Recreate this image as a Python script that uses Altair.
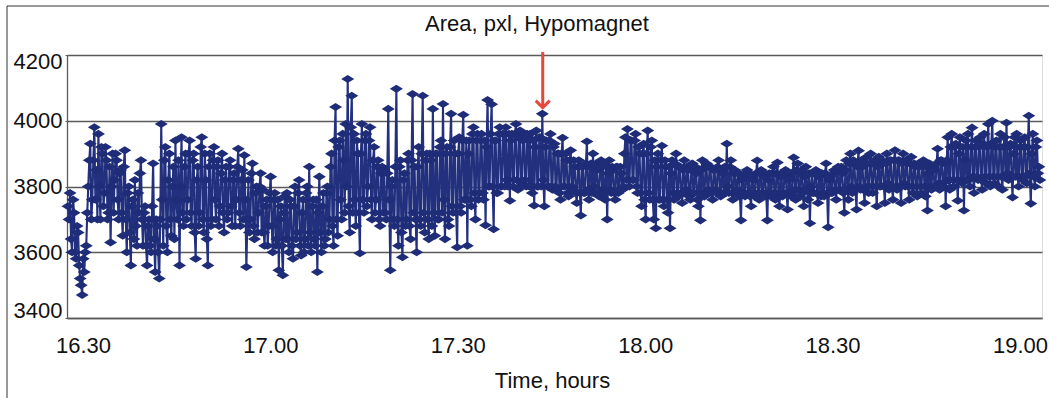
import altair as alt
import numpy as np
import pandas as pd

# Area (pxl) readings, in time order (16:27 .. 19:03)
part_a = [
    3740, 3700, 3780, 3640, 3600, 3760, 3720, 3600, 3580, 3680, 3660, 3560, 3520, 3500, 3470, 3580, 3540, 3600, 3620, 3720, 3800, 3880, 3930, 3700,
    3760, 3880, 3980, 3760, 3850, 3700, 3960, 3800, 3700, 3920, 3900, 3740, 3780, 3920, 3880, 3700, 3720, 3860, 3630, 3800, 3900, 3720, 3820, 3900,
    3880, 3760, 3700, 3840, 3850, 3720, 3650, 3860, 3910, 3700, 3600, 3780, 3800, 3660, 3560, 3740, 3760, 3640, 3820, 3680, 3620, 3780, 3720, 3840,
    3880, 3700, 3620, 3720, 3740, 3620, 3560, 3680, 3700, 3620, 3600, 3740, 3870, 3640, 3540, 3700, 3680, 3600, 3520, 3700, 3990, 3760, 3620, 3880,
    3920, 3680, 3600, 3820, 3900, 3700, 3650, 3800, 3860, 3640, 3940, 3760, 3700, 3880, 3560, 3800, 3950, 3720, 3680, 3860, 3900, 3700, 3760, 3900,
    3940, 3720, 3680, 3880, 3900, 3660, 3580, 3820, 3860, 3680, 3720, 3920, 3950, 3700, 3660, 3900, 3820, 3640, 3560, 3860, 3900, 3680, 3700, 3880,
    3920, 3760, 3700, 3860, 3880, 3680, 3740, 3840, 3900, 3720, 3660, 3820, 3860, 3700, 3720, 3860, 3880, 3740, 3680, 3820, 3840, 3680, 3760, 3860,
    3915, 3720, 3680, 3820, 3850, 3700, 3895, 3760, 3555, 3700, 3820, 3660, 3700, 3840, 3870, 3680, 3640, 3780, 3800, 3660, 3720, 3800, 3840, 3660,
]
part_b = [
    3790, 3660, 3620, 3740, 3760, 3620, 3680, 3780, 3830, 3680, 3600, 3760, 3780, 3620, 3640, 3760, 3545, 3700, 3740, 3620, 3530, 3720, 3770, 3640,
    3780, 3640, 3600, 3760, 3740, 3620, 3580, 3740, 3800, 3640, 3660, 3780, 3820, 3620, 3590, 3720, 3760, 3600, 3640, 3780, 3800, 3620, 3860, 3660,
    3600, 3740, 3760, 3640, 3620, 3760, 3540, 3720, 3830, 3660, 3600, 3740, 3780, 3620, 3640, 3780, 3800, 3660, 3700, 3860, 3900, 3680, 3620, 3940,
    4042, 3700, 3650, 3920, 3940, 3760, 3700, 3960, 3880, 3720, 3990, 3800, 4127, 3740, 3660, 3980, 4076, 3720, 3960, 3760, 3680, 3940, 3900, 3720,
    3597, 3900, 3990, 3760, 3720, 3940, 3960, 3740, 3800, 3940, 3980, 3760, 3700, 3880, 3920, 3720, 3760, 3860, 3880, 3700, 3680, 3840, 3860, 3720,
    3850, 3720, 3700, 3840, 4036, 3760, 3545, 3800, 3820, 3700, 3680, 3860, 4097, 3700, 3620, 3860, 3880, 3660, 3585, 3820, 3840, 3680, 3700, 3880,
    3900, 3680, 3640, 3880, 4081, 3720, 3860, 3700, 3600, 3860, 3920, 3700, 3680, 3900, 4076, 3720, 3660, 3880, 3900, 3700, 3640, 3900, 3880, 3680,
    4036, 3720, 3650, 3900, 3900, 3700, 3700, 3920, 3940, 3720, 4051, 3760, 3640, 3900, 3920, 3700, 3680, 3920, 4021, 3740, 3720, 3940, 3900, 3720,
]
part_c = [
    3615, 3900, 3950, 3740, 3720, 3940, 4018, 3760, 3760, 3940, 3620, 3900, 3940, 3760, 3740, 3960, 3980, 3780, 3700, 3940, 3960, 3760, 3780, 3940,
    3960, 3780, 3760, 3940, 3682, 3920, 4063, 3800, 3800, 3960, 4050, 3800, 3670, 3940, 3940, 3780, 3780, 3960, 3980, 3800, 3800, 3960, 3960, 3800,
    3980, 3820, 3800, 3960, 3757, 3940, 3960, 3800, 3820, 3960, 3990, 3820, 3790, 3950, 3970, 3800, 3810, 3940, 3960, 3820, 3800, 3960, 3950, 3800,
    3960, 3800, 3780, 3940, 3742, 3920, 3970, 3800, 3800, 3950, 3950, 3800, 4021, 3820, 3740, 3920, 3940, 3800, 3800, 3940, 3960, 3800, 3790, 3920,
    3930, 3800, 3790, 3900, 3900, 3780, 3760, 3900, 3948, 3800, 3800, 3900, 3880, 3780, 3770, 3880, 3910, 3800, 3790, 3880, 3860, 3780, 3750, 3860,
    3880, 3780, 3712, 3860, 3860, 3780, 3780, 3870, 3937, 3790, 3760, 3860, 3870, 3780, 3900, 3800, 3780, 3870, 3850, 3780, 3770, 3860, 3880, 3790,
    3870, 3780, 3760, 3860, 3700, 3840, 3880, 3790, 3780, 3860, 3850, 3780, 3760, 3860, 3860, 3780, 3790, 3860, 3840, 3790, 3800, 3900, 3950, 3820,
    3975, 3820, 3800, 3940, 3940, 3820, 3820, 3940, 3960, 3800, 3780, 3920, 3900, 3780, 3740, 3900, 3930, 3760, 3700, 3900, 3970, 3780, 3760, 3920,
]
part_d = [
    3940, 3760, 3700, 3880, 3673, 3860, 3900, 3760, 3760, 3880, 3924, 3760, 3740, 3880, 3860, 3760, 3720, 3860, 3673, 3840, 3880, 3780, 3760, 3870,
    3900, 3780, 3770, 3860, 3860, 3780, 3750, 3850, 3880, 3780, 3790, 3860, 3850, 3770, 3760, 3850, 3870, 3780, 3780, 3860, 3840, 3760, 3740, 3850,
    3697, 3850, 3880, 3780, 3770, 3860, 3870, 3780, 3790, 3860, 3860, 3780, 3760, 3850, 3850, 3790, 3780, 3860, 3880, 3780, 3770, 3850, 3840, 3780,
    3860, 3780, 3930, 3800, 3780, 3860, 3880, 3780, 3760, 3840, 3850, 3780, 3790, 3840, 3840, 3770, 3697, 3820, 3830, 3780, 3770, 3840, 3850, 3780,
    3840, 3770, 3740, 3830, 3820, 3780, 3770, 3840, 3879, 3780, 3760, 3840, 3850, 3780, 3780, 3840, 3830, 3770, 3697, 3820, 3840, 3780, 3770, 3840,
    3860, 3780, 3760, 3840, 3873, 3780, 3740, 3830, 3840, 3770, 3780, 3840, 3850, 3780, 3730, 3820, 3830, 3780, 3770, 3840, 3888, 3790, 3760, 3850,
    3870, 3790, 3770, 3840, 3850, 3780, 3740, 3830, 3860, 3790, 3760, 3840, 3688, 3800, 3840, 3780, 3780, 3840, 3850, 3780, 3750, 3830, 3830, 3770,
    3840, 3780, 3770, 3840, 3870, 3780, 3676, 3820, 3830, 3780, 3780, 3840, 3850, 3790, 3760, 3850, 3860, 3790, 3790, 3860, 3840, 3780, 3720, 3850,
]
part_e = [
    3880, 3790, 3760, 3870, 3900, 3800, 3780, 3880, 3870, 3790, 3730, 3860, 3909, 3800, 3790, 3880, 3860, 3790, 3750, 3870, 3890, 3800, 3780, 3870,
    3900, 3800, 3780, 3870, 3880, 3800, 3740, 3860, 3890, 3800, 3800, 3880, 3870, 3800, 3750, 3870, 3900, 3810, 3790, 3880, 3880, 3800, 3760, 3880,
    3910, 3800, 3790, 3880, 3880, 3800, 3750, 3870, 3900, 3810, 3800, 3880, 3870, 3800, 3760, 3870, 3890, 3800, 3780, 3870, 3860, 3800, 3770, 3870,
    3860, 3800, 3780, 3870, 3880, 3800, 3770, 3860, 3727, 3840, 3870, 3800, 3790, 3860, 3850, 3800, 3800, 3870, 3915, 3810, 3790, 3880, 3880, 3810,
    3800, 3870, 3740, 3880, 3950, 3820, 3790, 3920, 3960, 3820, 3800, 3920, 3930, 3820, 3757, 3900, 3950, 3820, 3810, 3920, 3727, 3880, 3940, 3820,
    3960, 3820, 3800, 3920, 3979, 3830, 3780, 3920, 3940, 3830, 3820, 3920, 3950, 3820, 3790, 3930, 3960, 3830, 3810, 3920, 3990, 3830, 3800, 3930,
    4000, 3830, 3810, 3920, 3940, 3830, 3800, 3920, 3960, 3830, 3790, 3920, 3950, 3830, 3994, 3840, 3820, 3920, 3930, 3830, 3767, 3900, 3950, 3830,
    3960, 3830, 3800, 3920, 3940, 3830, 3820, 3920, 3950, 3830, 3810, 3920, 4015, 3840, 3748, 3900, 3960, 3830, 3800, 3920, 3940, 3840, 3860, 3820,
]

first_minute = -2.4     # minutes after 16:30 of the first reading
last_minute = 153.2     # minutes after 16:30 of the last reading

tick_minutes = [0, 30, 60, 90, 120, 150]
tick_labels = ["16.30", "17.00", "17.30", "18.00", "18.30", "19.00"]
y_ticks = [3400, 3600, 3800, 4000, 4200]

# red arrow marking one reading
arrow_minute = [73.6]
arrow_top = [4209]
arrow_tip = [4044]

chart_title = "Area, pxl, Hypomagnet"

values = part_a + part_b + part_c + part_d + part_e
times = np.linspace(first_minute, last_minute, len(values))
df = pd.DataFrame({"t": times, "v": values})
arrow_df = pd.DataFrame({"t": arrow_minute, "top": arrow_top, "tip": arrow_tip})

label_expr = " : ".join(
    f"datum.value == {m} ? '{l}'" for m, l in zip(tick_minutes, tick_labels)
) + " : ''"

FONT = "Liberation Sans"
NAVY = "#1f2c78"
GRID = "#5a5a5a"

x_enc = alt.X(
    "t:Q",
    scale=alt.Scale(domain=[-2.56, 153.53], nice=False, zero=False),
    axis=alt.Axis(
        values=tick_minutes, labelExpr=label_expr, grid=False, ticks=False,
        domainColor=GRID, domainWidth=1.3, labelFontSize=22, labelFont=FONT,
        labelColor="#111", labelPadding=17, title="Time, hours",
        titleFont=FONT, titleFontSize=22, titleFontWeight="normal",
        titleColor="#111", titleX=485, titleY=69, titleBaseline="alphabetic",
        titleAlign="center",
    ),
)
y_enc = alt.Y(
    "v:Q",
    scale=alt.Scale(domain=[3400, 4200], nice=False, zero=False),
    axis=alt.Axis(
        values=y_ticks, format="d", grid=True, gridColor=GRID, gridWidth=1.3,
        domainColor=GRID, domainWidth=1.3, tickSize=2, tickColor=GRID,
        labelFontSize=22, labelFont=FONT, labelColor="#111", labelPadding=3,
        labelFlush=True, labelFlushOffset=4, title=None,
    ),
)

frame = alt.Chart(pd.DataFrame({"a": [0]})).mark_rect(
    fillOpacity=0, stroke="#333", strokeWidth=1
).encode(x=alt.value(-60), x2=alt.value(1200), y=alt.value(-49), y2=alt.value(600))

title_text = alt.Chart(pd.DataFrame({"label": [chart_title]})).mark_text(
    font=FONT, fontSize=22, color="#111", align="center", baseline="alphabetic"
).encode(text="label:N", x=alt.value(470), y=alt.value(-24))

line = alt.Chart(df).mark_line(color="#22307e", strokeWidth=2.1).encode(x=x_enc, y=y_enc)
points = alt.Chart(df).mark_point(
    shape="M-1,0L0,-0.62L1,0L0,0.62Z", filled=True, size=170, color=NAVY, opacity=1
).encode(x="t:Q", y="v:Q")

arrow_line = alt.Chart(arrow_df).mark_rule(color="#e8473c", strokeWidth=3).encode(
    x="t:Q", y="top:Q", y2="tip:Q"
)
arrow_head = alt.Chart(arrow_df).mark_point(
    shape="M-1,-0.8L0,0.2L1,-0.8", filled=False, size=196, color="#e8473c",
    strokeWidth=3, opacity=1
).encode(x="t:Q", y="tip:Q")

chart = alt.layer(frame, title_text, line, points, arrow_line, arrow_head).properties(
    width=975,
    height=263,
    padding={"left": 67, "top": 55, "right": 7, "bottom": 80},
    autosize=alt.AutoSizeParams(type="none"),
).configure_view(stroke=GRID, strokeWidth=1.3).configure(background="white")

chart.save("out.html", embed_options={"renderer": "svg", "actions": False})
